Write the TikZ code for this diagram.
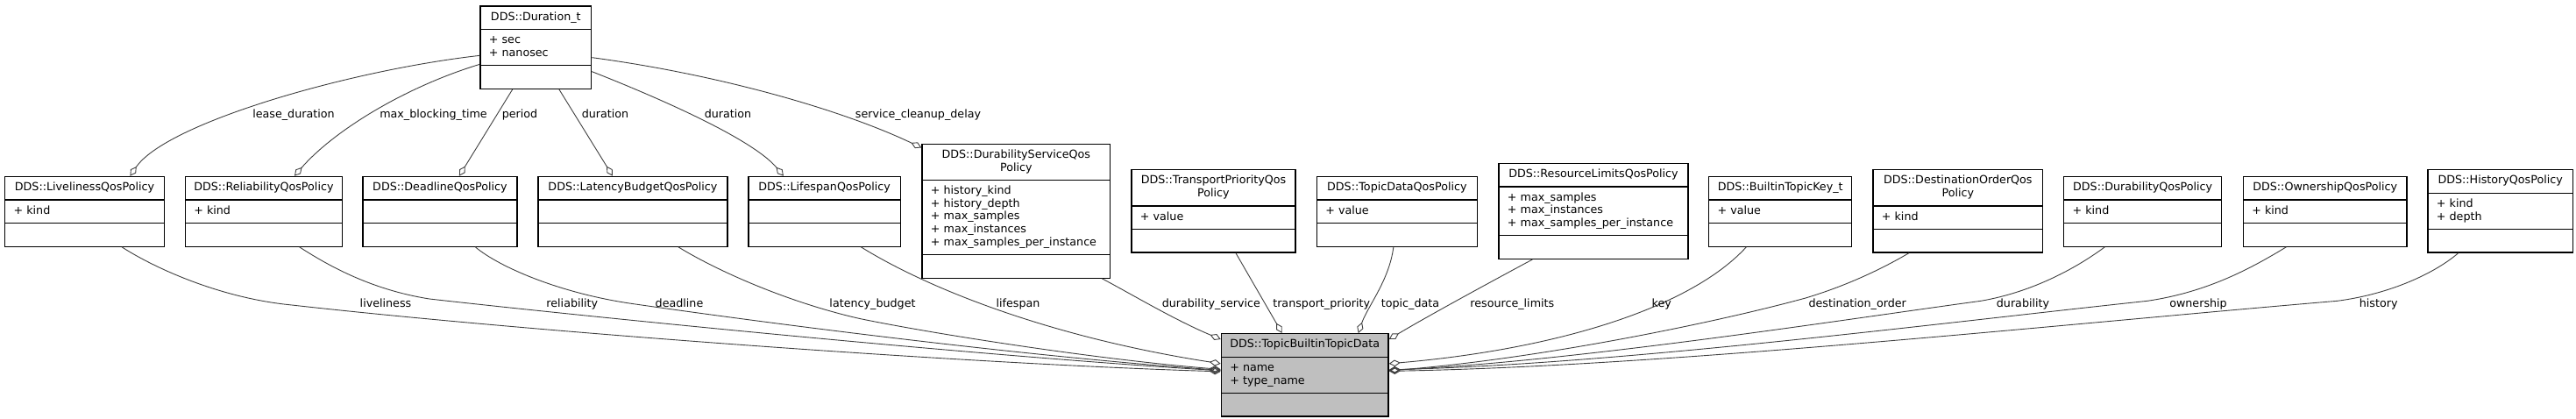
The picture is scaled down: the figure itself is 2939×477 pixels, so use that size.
\documentclass[tikz,border=0pt]{standalone}
\usepackage{fontspec}
\setmainfont{DejaVu Sans}
\usepackage{tikz}
\usetikzlibrary{arrows.meta,shapes.multipart}
\definecolor{dxgray}{RGB}{191,191,191}
\definecolor{dxedge}{RGB}{64,64,64}
\tikzstyle{classbox} = [rectangle split, rectangle split parts=3, rectangle split part align={center,left,left}, anchor=north west, draw=black, fill=white, line width=1.3pt, inner xsep=10pt, inner ysep=5.35pt, font=\fontsize{12.7pt}{14.6pt}\selectfont]
\tikzstyle{aggr} = [draw=dxedge, line width=0.9pt, -{Diamond[open,length=13pt,width=7.5pt]}]
\tikzstyle{edgelabel} = [anchor=base, inner sep=0pt, font=\fontsize{12.7pt}{14.6pt}\selectfont]

\begin{document}
\begin{tikzpicture}[x=1pt, y=-1pt]
\useasboundingbox (0,0) rectangle (2939,477);
% Classes
\node[classbox, minimum width=126.7pt] (dur) at (547.3,6.3) {\strut DDS::Duration\_t\nodepart{two}\begin{tabular}{@{}l@{}}+ sec\\+ nanosec\end{tabular}\nodepart{three}\strut};
\node[classbox, minimum width=181.7pt] (live) at (5,200.7) {\strut DDS::LivelinessQosPolicy\nodepart{two}\strut + kind\nodepart{three}\strut};
\node[classbox, minimum width=178.7pt] (reli) at (210.7,200.7) {\strut DDS::ReliabilityQosPolicy\nodepart{two}\strut + kind\nodepart{three}\strut};
\node[classbox, minimum width=176pt] (dead) at (413.3,200.7) {\strut DDS::DeadlineQosPolicy\nodepart{two}\strut\nodepart{three}\strut};
\node[classbox, minimum width=216pt] (lat) at (613.3,200.7) {\strut DDS::LatencyBudgetQosPolicy\nodepart{two}\strut\nodepart{three}\strut};
\node[classbox, minimum width=173.4pt] (life) at (853.3,200.7) {\strut DDS::LifespanQosPolicy\nodepart{two}\strut\nodepart{three}\strut};
\node[classbox, minimum width=214.7pt] (dursvc) at (1051.3,163.7) {\begin{tabular}{@{}c@{}}DDS::DurabilityServiceQos\\Policy\end{tabular}\nodepart{two}\begin{tabular}{@{}l@{}}+ history\_kind\\+ history\_depth\\+ max\_samples\\+ max\_instances\\+ max\_samples\_per\_instance\end{tabular}\nodepart{three}\strut};
\node[classbox, minimum width=187pt] (tprio) at (1290.3,193) {\begin{tabular}{@{}c@{}}DDS::TransportPriorityQos\\Policy\end{tabular}\nodepart{two}\strut + value\nodepart{three}\strut};
\node[classbox, minimum width=183pt] (tdata) at (1501.7,200.7) {\strut DDS::TopicDataQosPolicy\nodepart{two}\strut + value\nodepart{three}\strut};
\node[classbox, minimum width=216pt] (reslim) at (1709.3,185.7) {\strut DDS::ResourceLimitsQosPolicy\nodepart{two}\begin{tabular}{@{}l@{}}+ max\_samples\\+ max\_instances\\+ max\_samples\_per\_instance\end{tabular}\nodepart{three}\strut};
\node[classbox, minimum width=163pt] (key) at (1949,200.7) {\strut DDS::BuiltinTopicKey\_t\nodepart{two}\strut + value\nodepart{three}\strut};
\node[classbox, minimum width=193.7pt] (dorder) at (2136.3,193) {\begin{tabular}{@{}c@{}}DDS::DestinationOrderQos\\Policy\end{tabular}\nodepart{two}\strut + kind\nodepart{three}\strut};
\node[classbox, minimum width=180pt] (durab) at (2354,200.7) {\strut DDS::DurabilityQosPolicy\nodepart{two}\strut + kind\nodepart{three}\strut};
\node[classbox, minimum width=186.7pt] (owner) at (2558.7,200.7) {\strut DDS::OwnershipQosPolicy\nodepart{two}\strut + kind\nodepart{three}\strut};
\node[classbox, minimum width=165.4pt] (hist) at (2769.3,193) {\strut DDS::HistoryQosPolicy\nodepart{two}\begin{tabular}{@{}l@{}}+ kind\\+ depth\end{tabular}\nodepart{three}\strut};
\node[classbox, fill=dxgray, minimum width=190.6pt] (tbtd) at (1392.7,380) {\strut DDS::TopicBuiltinTopicData\nodepart{two}\begin{tabular}{@{}l@{}}+ name\\+ type\_name\end{tabular}\nodepart{three}\strut};

% Duration_t members
\draw[aggr] ([yshift=-9.2pt]dur.west) .. controls (400,80) and (190,140) .. ([xshift=51.9pt]live.north);
\draw[aggr] ([yshift=-19.2pt]dur.west) .. controls (460,100) and (380,150) .. ([xshift=35pt]reli.north);
\draw[aggr] ([xshift=-26.6pt]dur.south) -- ([xshift=22pt]dead.north);
\draw[aggr] ([xshift=26.6pt]dur.south) -- ([xshift=-23pt]lat.north);
\draw[aggr] ([yshift=-27.5pt]dur.east) .. controls (760,115) and (860,160) .. ([xshift=-46.7pt]life.north);
\draw[aggr] ([yshift=-11.5pt]dur.east) .. controls (820,85) and (960,125) .. ([yshift=-4.8pt]dursvc.north west);
\node[edgelabel] (l_lease) at (335,134) {lease\_duration};
\node[edgelabel] (l_block) at (494.5,134) {max\_blocking\_time};
\node[edgelabel] (l_period) at (593,134) {period};
\node[edgelabel] (l_latdur) at (690.5,134) {duration};
\node[edgelabel] (l_lifedur) at (830.5,134) {duration};
\node[edgelabel] (l_cleanup) at (1047.5,134) {service\_cleanup\_delay};

% TopicBuiltinTopicData members
\draw[aggr] ([xshift=42.5pt]live.south) .. controls (175,305) and (250,340) .. (333,348) .. controls (600,378) and (1100,415) .. ([yshift=4pt]tbtd.west);
\draw[aggr] ([xshift=40.7pt]reli.south) .. controls (370,300) and (420,330) .. (490,341) .. controls (640,358) and (1100,405) .. ([yshift=5pt]tbtd.west);
\draw[aggr] ([xshift=40.4pt]dead.south) .. controls (570,305) and (640,335) .. (723,346.7) .. controls (850,365) and (1150,405) .. ([yshift=5.5pt]tbtd.west);
\draw[aggr] ([xshift=52pt]lat.south) .. controls (820,310) and (900,345) .. (980,363.3) .. controls (1060,380) and (1250,410) .. ([yshift=6.5pt]tbtd.west);
\draw[aggr] ([xshift=41.7pt]life.south) .. controls (1060,330) and (1200,385) .. ([yshift=13pt]tbtd.west);
\draw[aggr] ([xshift=98pt]dursvc.south) .. controls (1290,335) and (1340,365) .. ([yshift=-7pt]tbtd.north west);
\draw[aggr] ([xshift=25.5pt]tprio.south) -- ([xshift=-26pt]tbtd.north);
\draw[aggr] ([xshift=-4pt]tdata.south) .. controls (1585,320) and (1560,350) .. ([xshift=61pt]tbtd.north);
\draw[aggr] ([xshift=-69.6pt]reslim.south) .. controls (1700,322) and (1630,360) .. ([yshift=-7pt]tbtd.north east);
\draw[aggr] ([xshift=-38.8pt]key.south) .. controls (1930,350) and (1780,398) .. ([yshift=13pt]tbtd.east);
\draw[aggr] ([xshift=-55.9pt]dorder.south) .. controls (2150,305) and (2110,325) .. (2060,340) .. controls (1950,370) and (1750,410) .. ([yshift=5pt]tbtd.east);
\draw[aggr] ([xshift=-43.3pt]durab.south) .. controls (2370,305) and (2320,333) .. (2260,343.3) .. controls (2100,365) and (1800,412) .. ([yshift=5.5pt]tbtd.east);
\draw[aggr] ([xshift=-44.3pt]owner.south) .. controls (2570,305) and (2520,333) .. (2450,343.3) .. controls (2200,370) and (1850,415) .. ([yshift=6pt]tbtd.east);
\draw[aggr] ([xshift=-48pt]hist.south) .. controls (2780,310) and (2730,335) .. (2666.7,343.3) .. controls (2350,370) and (1900,418) .. ([yshift=4.5pt]tbtd.east);
\node[edgelabel] (l_live) at (440,350.7) {liveliness};
\node[edgelabel] (l_reli) at (652.8,350.7) {reliability};
\node[edgelabel] (l_dead) at (775,350.7) {deadline};
\node[edgelabel] (l_lat) at (995.5,350.7) {latency\_budget};
\node[edgelabel] (l_life) at (1161.5,350.7) {lifespan};
\node[edgelabel] (l_dursvc) at (1381.8,350.7) {durability\_service};
\node[edgelabel] (l_tprio) at (1507.7,350.7) {transport\_priority};
\node[edgelabel] (l_tdata) at (1609,350.7) {topic\_data};
\node[edgelabel] (l_reslim) at (1725.3,350.7) {resource\_limits};
\node[edgelabel] (l_key) at (1895.8,350.7) {key};
\node[edgelabel] (l_dorder) at (2119.2,350.7) {destination\_order};
\node[edgelabel] (l_durab) at (2308,350.7) {durability};
\node[edgelabel] (l_owner) at (2508,350.7) {ownership};
\node[edgelabel] (l_hist) at (2713.7,350.7) {history};
\end{tikzpicture}
\end{document}
